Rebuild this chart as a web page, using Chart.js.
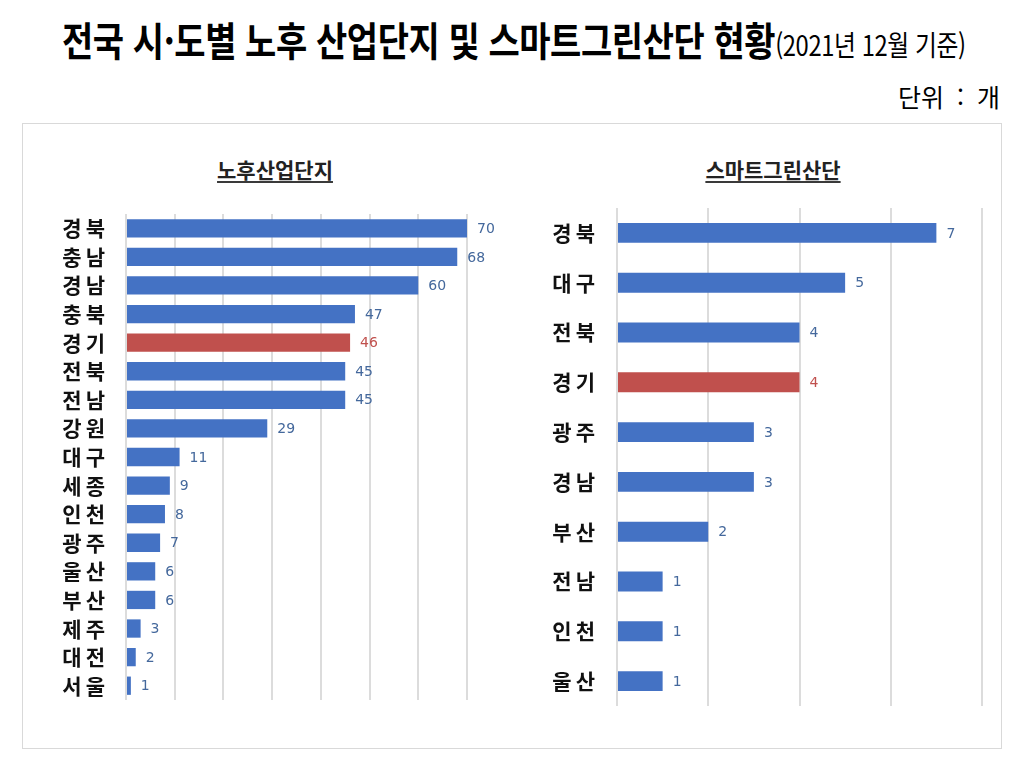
<!DOCTYPE html>
<html lang="ko">
<head>
<meta charset="utf-8">
<script src="https://cdn.jsdelivr.net/npm/chart.js@4.4.1/dist/chart.umd.min.js"></script>
<style>
  html,body{margin:0;padding:0;background:#fff;}
  body{width:1024px;height:769px;position:relative;overflow:hidden;font-family:"Noto Sans CJK KR","Noto Sans",sans-serif;}
  #title{position:absolute;left:62px;top:10px;white-space:nowrap;color:#000;transform-origin:0 0;transform:scaleX(0.85);}
  #title .main{font-size:40px;font-weight:700;letter-spacing:-0.5px;}
  #title .sub{font-size:28px;font-weight:400;letter-spacing:-0.5px;}
  #unit{position:absolute;right:24px;top:78px;font-size:25px;color:#000;white-space:nowrap;word-spacing:6px;}
  #panel{position:absolute;left:22px;top:123px;width:980px;height:626px;border:1px solid #d9d9d9;box-sizing:border-box;}
  .ptitle{position:absolute;top:154px;font-size:21px;font-weight:700;color:#222;text-decoration:underline;text-decoration-color:#3a3a3a;text-underline-offset:3px;white-space:nowrap;transform:translateX(-50%);}
  canvas{position:absolute;}
</style>
</head>
<body>
<div id="title"><span class="main">전국 시·도별 노후 산업단지 및 스마트그린산단 현황</span><span class="sub">(2021년 12월 기준)</span></div>
<div id="unit">단위 : 개</div>
<div id="panel"></div>
<div class="ptitle" style="left:275px;">노후산업단지</div>
<div class="ptitle" style="left:773px;">스마트그린산단</div>
<canvas id="c1" width="490" height="515" style="left:30px;top:200px;"></canvas>
<canvas id="c2" width="470" height="525" style="left:525px;top:195px;"></canvas>
<script>
// 노후산업단지
const oldRegions = ['경북','충남','경남','충북','경기','전북','전남','강원','대구','세종','인천','광주','울산','부산','제주','대전','서울'];
const oldCounts  = [70,68,60,47,46,45,45,29,11,9,8,7,6,6,3,2,1];
const oldTicks   = [0,10,20,30,40,50,60,70];
// 스마트그린산단
const smartRegions = ['경북','대구','전북','경기','광주','경남','부산','전남','인천','울산'];
const smartCounts  = [7,5,4,4,3,3,2,1,1,1];
const smartTicks   = [0,2,4,6,8];
const highlight = '경기';

const BLUE = '#4472C4', RED = '#C0504D';
const LBL_BLUE = '#44689C', LBL_RED = '#C0504D';

const spacing = {
  id:'spacing',
  beforeDraw(chart){ chart.ctx.letterSpacing = '4px'; },
  afterDraw(chart){ chart.ctx.letterSpacing = '0px'; }
};

const valueLabels = {
  id:'valueLabels',
  afterDatasetsDraw(chart, args, opts){
    const ctx = chart.ctx;
    const meta = chart.getDatasetMeta(0);
    const ds = chart.data.datasets[0];
    ctx.save();
    ctx.letterSpacing = '0px';
    ctx.font = opts.font;
    ctx.textBaseline = 'middle';
    ctx.textAlign = 'left';
    meta.data.forEach((bar,i)=>{
      const lab = chart.data.labels[i];
      ctx.fillStyle = lab === highlight ? LBL_RED : LBL_BLUE;
      ctx.fillText(String(ds.data[i]), bar.x + opts.offset, bar.y + 1);
    });
    ctx.restore();
  }
};

function makeChart(id, labels, values, ticks, cfg){
  return new Chart(document.getElementById(id), {
    type:'bar',
    data:{
      labels: labels,
      datasets:[{
        data: values,
        backgroundColor: labels.map(l => l === highlight ? RED : BLUE),
        borderWidth: 0,
        barPercentage: cfg.barPct,
        categoryPercentage: 1
      }]
    },
    options:{
      indexAxis:'y',
      responsive:false,
      animation:false,
      devicePixelRatio:1,
      layout:{padding:cfg.padding},
      plugins:{
        legend:{display:false},
        tooltip:{enabled:false},
        valueLabels:{font:cfg.valFont, offset:10}
      },
      scales:{
        x:{
          min: ticks[0], max: ticks[ticks.length-1],
          afterBuildTicks(axis){ axis.ticks = ticks.map(v=>({value:v})); },
          grid:{color:'#dcdcdc', lineWidth:2, drawTicks:false},
          border:{display:false},
          ticks:{display:false},
          afterFit(axis){ axis.height = 0; axis.paddingLeft = 0; axis.paddingRight = 0; axis.paddingTop = 0; axis.paddingBottom = 0; }
        },
        y:{
          grid:{display:false, drawTicks:false},
          border:{display:false},
          ticks:{
            color:'#111',
            padding: cfg.labelPad,
            font:{family:'"Noto Sans CJK KR", sans-serif', size:cfg.labelSize, weight:'bold'}
          },
          afterFit(axis){ axis.width = cfg.yWidth; axis.paddingTop = 0; axis.paddingBottom = 0; axis.paddingLeft = 0; axis.paddingRight = 0; }
        }
      }
    },
    plugins:[spacing, valueLabels]
  });
}

makeChart('c1', oldRegions, oldCounts, oldTicks, {
  barPct:0.64, padding:{top:14,bottom:15,left:0,right:53},
  yWidth:96, labelPad:17, labelSize:21,
  valFont:'14px "DejaVu Sans", sans-serif'
});
makeChart('c2', smartRegions, smartCounts, smartTicks, {
  barPct:0.4, padding:{top:13,bottom:14,left:0,right:13},
  yWidth:92, labelPad:18, labelSize:21,
  valFont:'14px "DejaVu Sans", sans-serif'
});
</script>
</body>
</html>
